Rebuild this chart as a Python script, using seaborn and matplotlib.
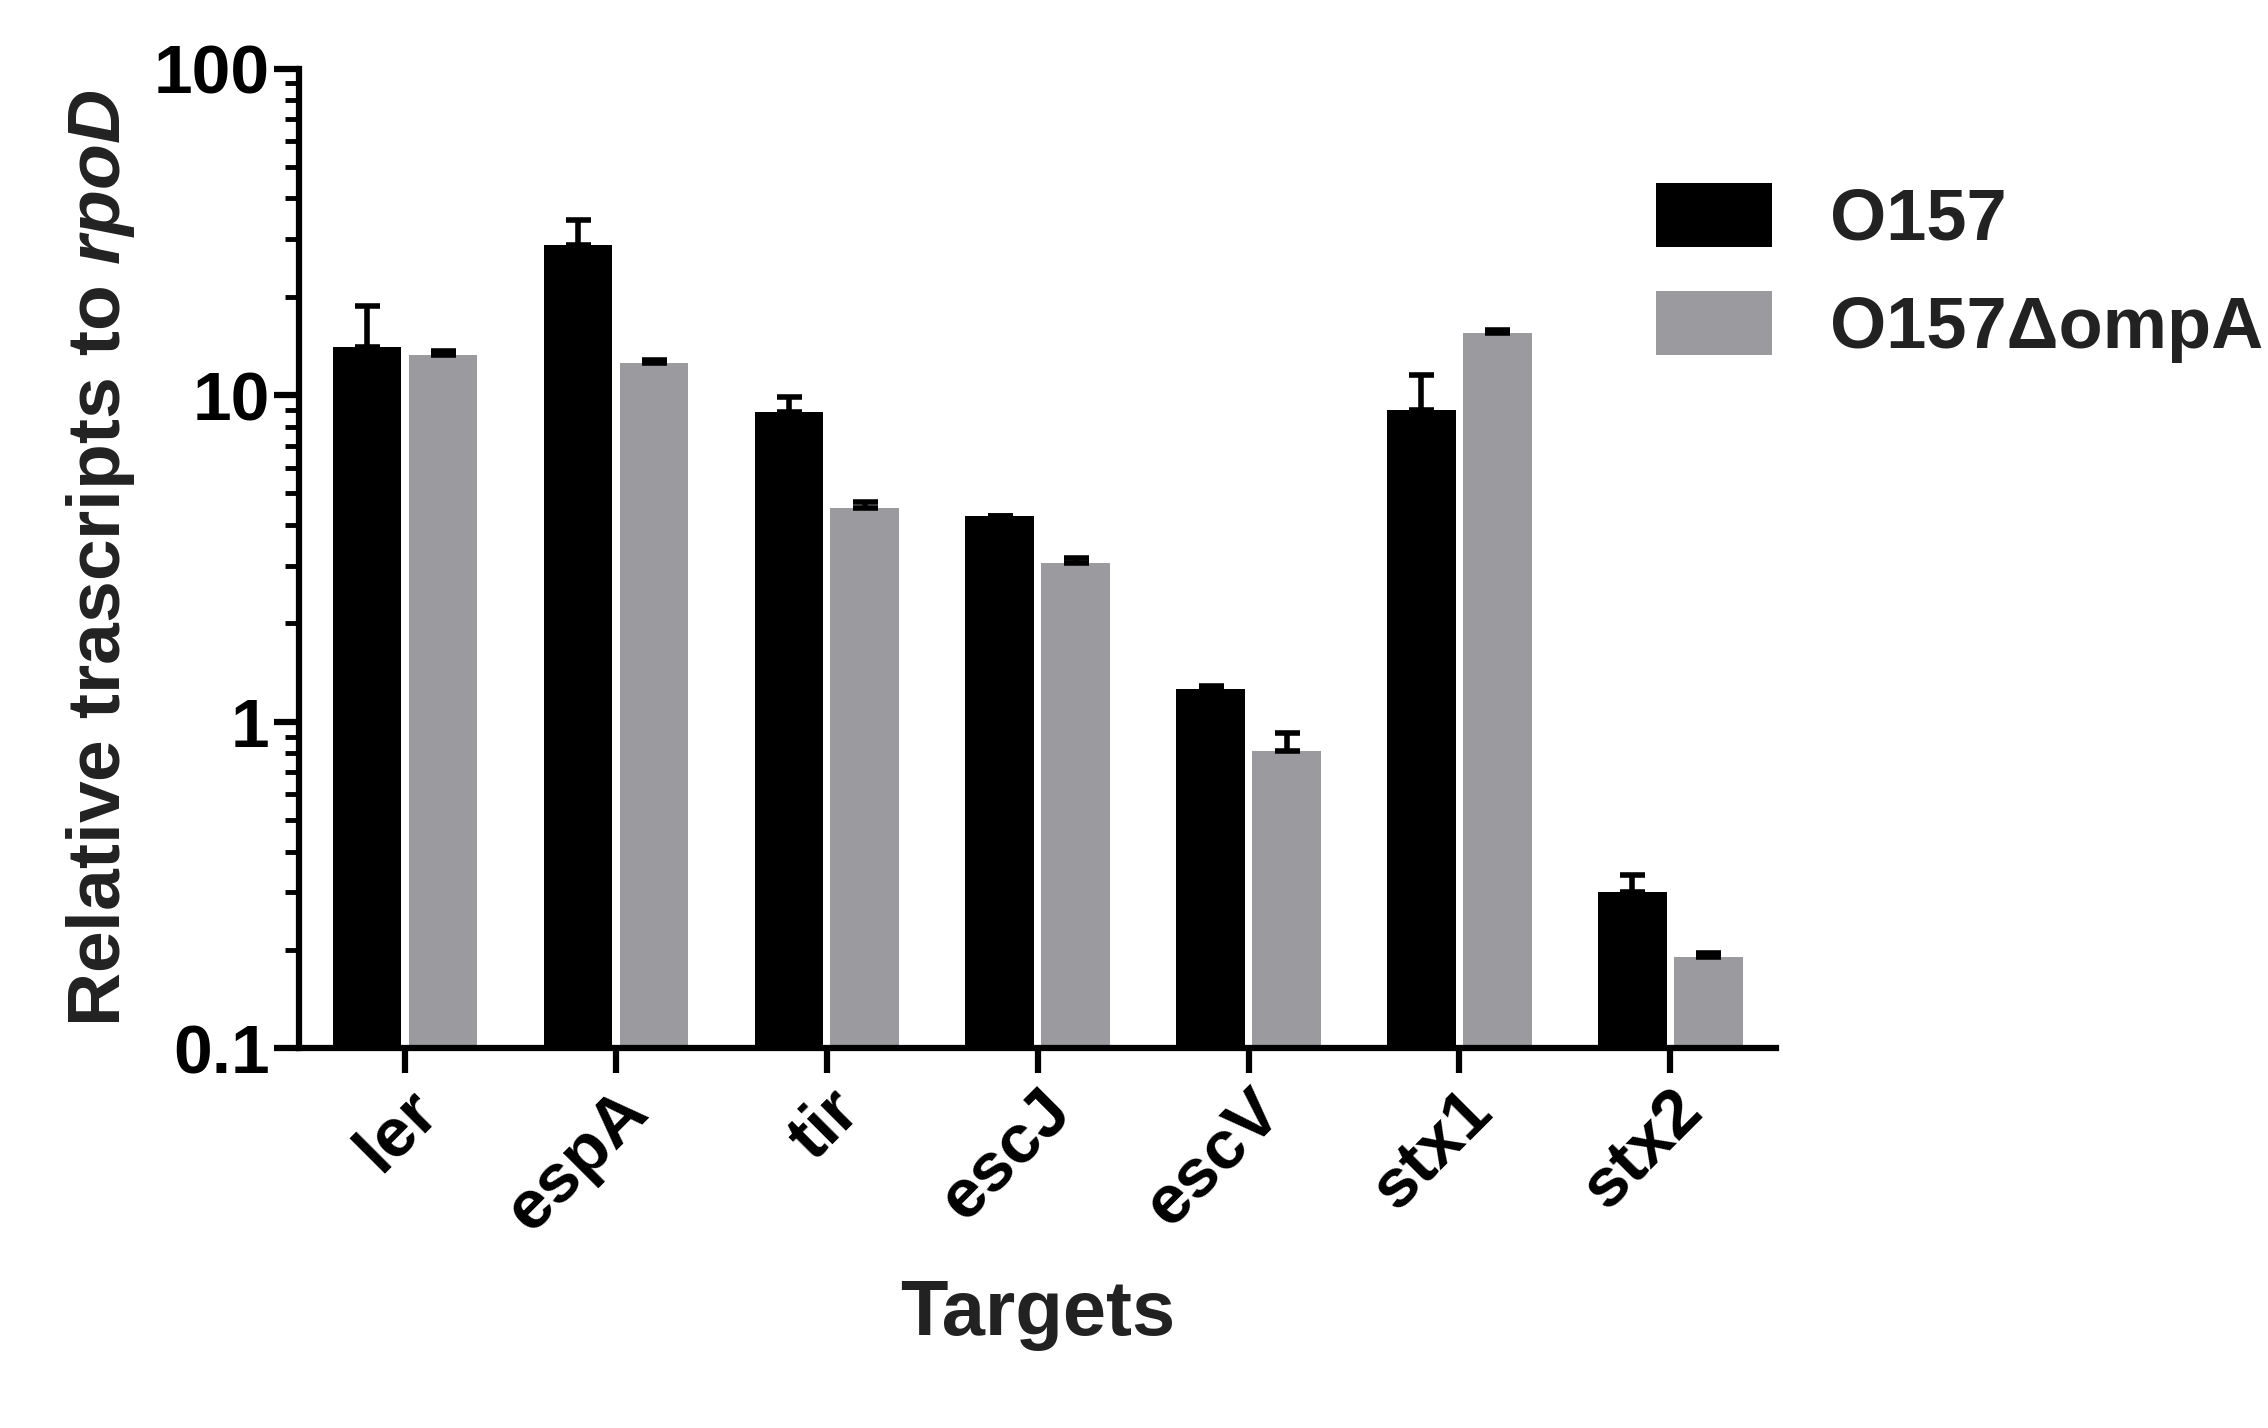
import matplotlib
matplotlib.use("Agg")
import matplotlib.pyplot as plt
import numpy as np
import pandas as pd
import seaborn as sns

targets = ["ler", "espA", "tir", "escJ", "escV", "stx1", "stx2"]
wt_mean = [14.0, 28.8, 8.9, 4.25, 1.26, 9.0, 0.30]
wt_err = [4.8, 5.5, 1.0, 0.0, 0.03, 2.5, 0.04]
mut_mean = [13.3, 12.5, 4.5, 3.07, 0.81, 15.5, 0.19]
mut_err = [0.3, 0.3, 0.2, 0.1, 0.11, 0.3, 0.005]
strains = ["O157", "O157\u0394ompA"]

df = pd.DataFrame({
    "target": targets * 2,
    "strain": [strains[0]] * 7 + [strains[1]] * 7,
    "value": wt_mean + mut_mean,
})

sns.set_style("ticks")
plt.rcParams["font.family"] = ["Liberation Sans", "DejaVu Sans"]
plt.rcParams["font.weight"] = "bold"
plt.rcParams["mathtext.fontset"] = "custom"
plt.rcParams["mathtext.it"] = "Liberation Sans:italic:bold"

fig = plt.figure(figsize=(22.68, 14.28), dpi=100)
ax = fig.add_axes([0.132, 0.266, 0.651, 0.686])
sns.barplot(data=df, x="target", y="value", hue="strain", ax=ax,
            palette=["black", "#9b9b9f"], width=0.72, gap=0.1, errorbar=None,
            linewidth=0)
ax.set_yscale("log")
ax.set_ylim(0.1, 100)
ax.set_xlim(-0.5, 6.5)

for cont, errs in zip(ax.containers, [wt_err, mut_err]):
    xs = [p.get_x() + p.get_width() / 2 for p in cont.patches]
    hs = [p.get_height() for p in cont.patches]
    ax.errorbar(xs, hs, yerr=[np.zeros(len(errs)), errs], fmt="none",
                ecolor="black", elinewidth=4, capsize=9, capthick=4)

for s in ["top", "right"]:
    ax.spines[s].set_visible(False)
for s in ["left", "bottom"]:
    ax.spines[s].set_linewidth(4.5)
    ax.spines[s].set_color("black")
ax.tick_params(axis="both", which="major", width=4.5, length=18, labelsize=50,
               direction="out", colors="black")
ax.tick_params(axis="y", which="minor", width=3.5, length=10, colors="black")
ax.set_yticks([0.1, 1, 10, 100])
ax.set_yticklabels(["0.1", "1", "10", "100"])
plt.setp(ax.get_xticklabels(), rotation=45, ha="right", rotation_mode="anchor", fontweight="bold")
plt.setp(ax.get_yticklabels(), fontweight="bold")
ax.set_xlabel("Targets", fontsize=56, fontweight="bold", labelpad=25, color="#222222")
ax.set_ylabel("Relative trascripts to $\\it{rpoD}$", fontsize=54, fontweight="bold",
              labelpad=12, color="#222222")

leg = ax.legend(loc="upper left", bbox_to_anchor=(0.875, 0.95), frameon=False,
                fontsize=52, handlelength=1.6, handleheight=1.0, labelspacing=0.5,
                handletextpad=0.8)
for t in leg.get_texts():
    t.set_fontweight("bold")
    t.set_color("#222222")

fig.savefig("out.png", dpi=100)
